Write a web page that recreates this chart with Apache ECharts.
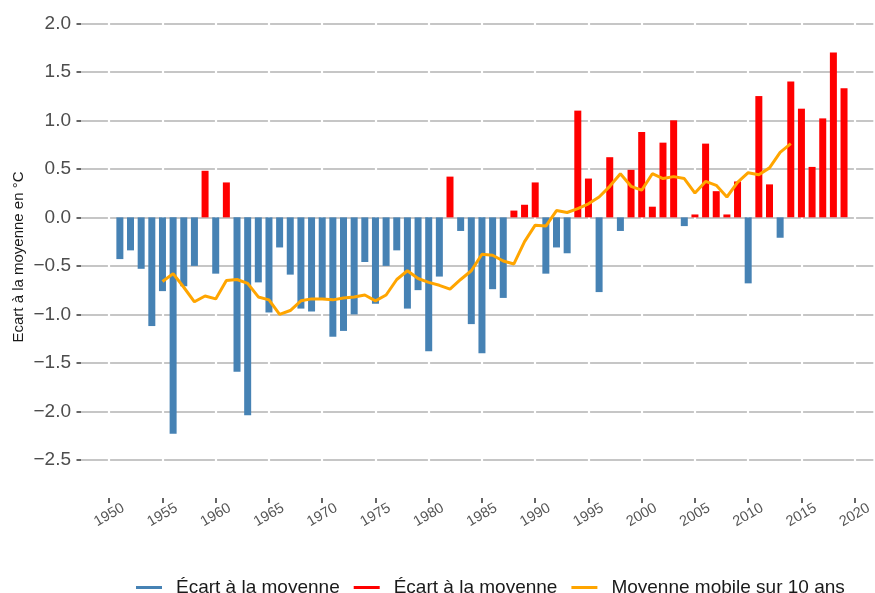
<!DOCTYPE html>
<html>
<head>
<meta charset="utf-8">
<script src="https://cdn.jsdelivr.net/npm/echarts@6/dist/echarts.min.js"></script>
<style>
  html, body { margin: 0; padding: 0; background: #fff; }
  #chart { width: 875px; height: 593px; }
</style>
</head>
<body>
<div id="chart"></div>
<script>
// annual temperature anomaly (°C)
const years = [1951, 1952, 1953, 1954, 1955, 1956, 1957, 1958, 1959, 1960,
  1961, 1962, 1963, 1964, 1965, 1966, 1967, 1968, 1969, 1970,
  1971, 1972, 1973, 1974, 1975, 1976, 1977, 1978, 1979, 1980,
  1981, 1982, 1983, 1984, 1985, 1986, 1987, 1988, 1989, 1990,
  1991, 1992, 1993, 1994, 1995, 1996, 1997, 1998, 1999, 2000,
  2001, 2002, 2003, 2004, 2005, 2006, 2007, 2008, 2009, 2010,
  2011, 2012, 2013, 2014, 2015, 2016, 2017, 2018, 2019]
const anomalies = [-0.43, -0.34, -0.53, -1.12, -0.76, -2.23, -0.71, -0.50, 0.48, -0.58,
  0.36, -1.59, -2.04, -0.67, -0.98, -0.31, -0.59, -0.94, -0.97, -0.85,
  -1.23, -1.17, -1.00, -0.46, -0.89, -0.50, -0.34, -0.94, -0.75, -1.38,
  -0.61, 0.42, -0.14, -1.10, -1.40, -0.74, -0.83, 0.07, 0.13, 0.36,
  -0.58, -0.31, -0.37, 1.10, 0.40, -0.77, 0.62, -0.14, 0.49, 0.88,
  0.11, 0.77, 1.00, -0.09, 0.03, 0.76, 0.27, 0.03, 0.37, -0.68,
  1.25, 0.34, -0.21, 1.40, 1.12, 0.52, 1.02, 1.70, 1.33]

// 10-year moving average
const maYears = [1955, 1956, 1957, 1958, 1959, 1960, 1961, 1962, 1963, 1964,
  1965, 1966, 1967, 1968, 1969, 1970, 1971, 1972, 1973, 1974,
  1975, 1976, 1977, 1978, 1979, 1980, 1981, 1982, 1983, 1984,
  1985, 1986, 1987, 1988, 1989, 1990, 1991, 1992, 1993, 1994,
  1995, 1996, 1997, 1998, 1999, 2000, 2001, 2002, 2003, 2004,
  2005, 2006, 2007, 2008, 2009, 2010, 2011, 2012, 2013, 2014]
const movingAvg = [-0.66, -0.58, -0.72, -0.87, -0.81, -0.84, -0.65, -0.64, -0.68, -0.82,
  -0.85, -1.00, -0.96, -0.86, -0.84, -0.84, -0.85, -0.83, -0.82, -0.80,
  -0.86, -0.80, -0.64, -0.55, -0.63, -0.67, -0.70, -0.74, -0.64, -0.55,
  -0.38, -0.39, -0.45, -0.48, -0.25, -0.08, -0.09, 0.07, 0.05, 0.09,
  0.14, 0.21, 0.32, 0.45, 0.32, 0.28, 0.45, 0.40, 0.42, 0.40,
  0.25, 0.37, 0.33, 0.21, 0.36, 0.46, 0.44, 0.51, 0.67, 0.76]

const xTicks = [1950, 1955, 1960, 1965, 1970, 1975, 1980, 1985, 1990, 1995, 2000, 2005, 2010, 2015, 2020]
const yTicks = [-2.5, -2.0, -1.5, -1.0, -0.5, 0.0, 0.5, 1.0, 1.5, 2.0]

const font = 'Liberation Sans, Arial, Helvetica, sans-serif'

const negData = []
const posData = []
years.forEach((y, i) => {
  if (anomalies[i] < 0) negData.push([y, anomalies[i]])
  else posData.push([y, anomalies[i]])
})

const chart = echarts.init(document.getElementById('chart'))
chart.setOption({
  animation: false,
  textStyle: { fontFamily: font },
  grid: { left: 81, right: 0, top: 0, height: 482 },
  graphic: [{
    type: 'text',
    x: 18.5,
    y: 257,
    rotation: Math.PI / 2,
    style: {
      text: 'Ecart à la moyenne en °C',
      font: '15px ' + font,
      fill: '#1a1a1a',
      textAlign: 'center',
      textVerticalAlign: 'middle'
    }
  }],
  legend: {
    left: 131,
    top: 573,
    icon: 'rect',
    itemWidth: 26,
    itemHeight: 3,
    itemGap: 14,
    textStyle: { fontSize: 19, color: '#1a1a1a', fontFamily: font, padding: [0, 0, 0, 9] },
    formatter: name => name.trim()
  },
  xAxis: {
    type: 'value',
    min: 1947.35,
    max: 2021.75,
    z: 1,
    offset: 16,
    axisLine: { show: false, onZero: false },
    axisTick: {
      show: true,
      customValues: xTicks,
      length: 5,
      lineStyle: { color: '#333', width: 1.5 }
    },
    axisLabel: {
      customValues: xTicks,
      rotate: 30,
      align: 'center',
      verticalAlign: 'middle',
      margin: 17,
      fontSize: 14.5,
      color: '#555',
      formatter: v => String(v)
    },
    splitLine: { show: true, lineStyle: { color: '#fff', width: 2.2 } }
  },
  yAxis: {
    type: 'value',
    min: -2.727,
    max: 2.24,
    z: 0,
    axisLine: { show: false },
    axisTick: {
      show: true,
      customValues: yTicks,
      length: 4.5,
      lineStyle: { color: '#333', width: 1.5 }
    },
    axisLabel: {
      customValues: yTicks,
      margin: 10,
      fontSize: 19,
      color: '#4d4d4d',
      formatter: v => v.toFixed(1).replace('-', '\u2212')
    },
    splitLine: { show: true, lineStyle: { color: '#c6c6c6', width: 1.8 } }
  },
  series: [
    {
      name: 'Écart à la moyenne',
      type: 'bar',
      z: 3,
      barWidth: 7,
      barGap: '-100%',
      itemStyle: { color: '#4682B4' },
      data: negData
    },
    {
      name: 'Écart à la moyenne ',
      type: 'bar',
      z: 3,
      barWidth: 7,
      barGap: '-100%',
      itemStyle: { color: '#FF0000' },
      data: posData
    },
    {
      name: 'Moyenne mobile sur 10 ans',
      type: 'line',
      z: 4,
      symbol: 'none',
      lineStyle: { color: '#FFA500', width: 3 },
      itemStyle: { color: '#FFA500' },
      data: maYears.map((y, i) => [y, movingAvg[i]])
    }
  ]
})
</script>
</body>
</html>
